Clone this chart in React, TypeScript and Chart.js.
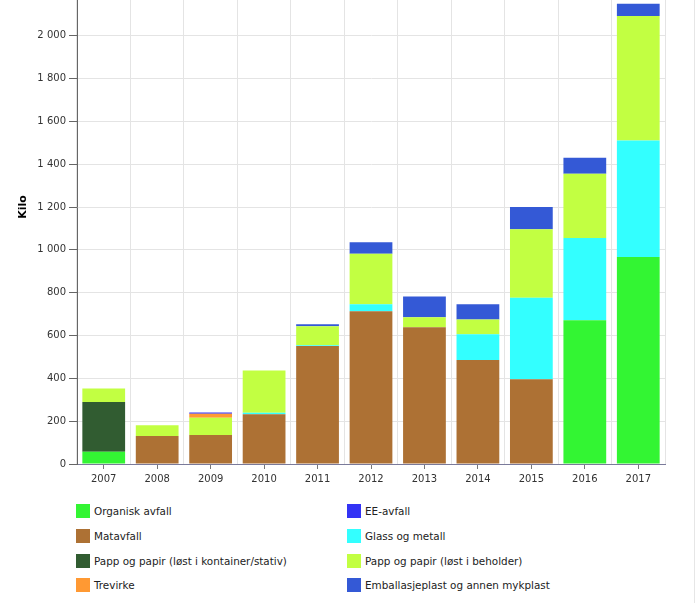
import React, { useEffect, useRef } from "react";
import { Chart, registerables } from "chart.js";
Chart.register(...registerables);

const years = ["2007", "2008", "2009", "2010", "2011", "2012", "2013", "2014", "2015", "2016", "2017"];
const organiskAvfall = [57, 0, 0, 0, 0, 0, 0, 0, 0, 671, 966];
const matavfall = [0, 131, 135, 232, 551, 713, 639, 486, 396, 0, 0];
const pappKontainer = [232, 0, 0, 0, 0, 0, 0, 0, 0, 0, 0];
const glassOgMetall = [0, 0, 0, 7, 3, 33, 0, 120, 380, 384, 545];
const pappBeholder = [64, 50, 81, 198, 89, 236, 46, 69, 320, 300, 581];
const trevirke = [0, 0, 19, 0, 0, 0, 0, 0, 0, 0, 0];
const eeAvfall = [0, 0, 5, 0, 0, 0, 0, 0, 0, 0, 0];
const emballasjeplast = [0, 0, 0, 0, 10, 53, 97, 71, 104, 75, 57];

const yMax = 2400;
const yStep = 200;

const series = [
  { label: "Organisk avfall", data: organiskAvfall, color: "#33f533" },
  { label: "Matavfall", data: matavfall, color: "#ad7134" },
  { label: "Papp og papir (løst i kontainer/stativ)", data: pappKontainer, color: "#315c31" },
  { label: "Glass og metall", data: glassOgMetall, color: "#33ffff" },
  { label: "Papp og papir (løst i beholder)", data: pappBeholder, color: "#c2ff42" },
  { label: "Trevirke", data: trevirke, color: "#ff9933" },
  { label: "EE-avfall", data: eeAvfall, color: "#3333f5" },
  { label: "Emballasjeplast og annen mykplast", data: emballasjeplast, color: "#3459d6" },
];

const legendCol1 = ["Organisk avfall", "Matavfall", "Papp og papir (løst i kontainer/stativ)", "Trevirke"];
const legendCol2 = ["EE-avfall", "Glass og metall", "Papp og papir (løst i beholder)", "Emballasjeplast og annen mykplast"];

const FONT = "'DejaVu Sans', Verdana, sans-serif";

function fmt(v: number): string {
  if (v >= 1000) {
    return Math.floor(v / 1000) + " " + String(v % 1000).padStart(3, "0");
  }
  return String(v);
}

export default function App() {
  const ref = useRef<HTMLCanvasElement | null>(null);
  useEffect(() => {
    if (!ref.current) return;
    const chart = new Chart(ref.current, {
      type: "bar",
      data: {
        labels: years,
        datasets: series.map((s) => ({
          label: s.label,
          data: s.data,
          backgroundColor: s.color,
          borderWidth: 0,
          barPercentage: 0.8,
          categoryPercentage: 1,
          xAxisID: "x",
          yAxisID: "y",
        })),
      },
      options: {
        responsive: false,
        animation: false,
        layout: { padding: { left: 0, right: 34, top: 0, bottom: 0 } },
        plugins: { legend: { display: false }, tooltip: { enabled: false } },
        scales: {
          x: {
            type: "category",
            stacked: true,
            offset: true,
            position: "bottom",
            grid: { offset: false, color: "rgba(0,0,0,0)", tickColor: "#777", tickLength: 5 },
            border: { color: "#7a7a9a", width: 1 },
            ticks: { color: "#333", font: { family: FONT, size: 10 }, padding: 4, maxRotation: 0 },
            afterFit: (s: any) => { s.height = 31; },
          },
          x2: {
            type: "category",
            position: "top",
            offset: true,
            grid: { offset: true, color: "#e4e4e4", drawTicks: false },
            border: { display: false },
            ticks: { display: false },
          },
          y: {
            stacked: true,
            min: 0,
            max: yMax,
            grid: { color: "#e4e4e4", tickColor: "#666", tickLength: 8 },
            border: { color: "#666", width: 1 },
            ticks: {
              stepSize: yStep,
              color: "#333",
              font: { family: FONT, size: 10 },
              padding: 3,
              callback: (v: any) => fmt(Number(v)),
            },
            title: {
              display: true,
              text: "Kilo",
              color: "#000",
              font: { family: FONT, size: 11, weight: "bold" },
              padding: { top: 17, bottom: 0 },
            },
            afterFit: (s: any) => { s.width = 77; },
          },
        },
      } as any,
    });
    return () => chart.destroy();
  }, []);

  const rowsY = [511, 536, 561, 585];
  const colorOf = (name: string) => series.find((s) => s.label === name)!.color;
  const renderCol = (names: string[], boxX: number, textX: number) =>
    names.map((n, i) => (
      <React.Fragment key={n}>
        <div style={{ position: "absolute", left: boxX, top: rowsY[i] - 7, width: 14, height: 14, background: colorOf(n) }} />
        <div
          style={{
            position: "absolute",
            left: textX,
            top: rowsY[i] - 8,
            height: 16,
            lineHeight: "16px",
            fontFamily: FONT,
            fontSize: "10.4px",
            color: "#222",
            whiteSpace: "nowrap",
          }}
        >
          {n}
        </div>
      </React.Fragment>
    ));

  return (
    <div style={{ position: "absolute", left: 0, top: 0, width: 699, height: 603, overflow: "hidden", background: "#fff" }}>
      <canvas ref={ref} width={699} height={554} style={{ position: "absolute", left: 0, top: -59, width: 699, height: 554 }} />
      {renderCol(legendCol1, 76, 94)}
      {renderCol(legendCol2, 347, 365)}
      <div style={{ position: "absolute", left: 694, top: 0, width: 1, height: 603, background: "#e6e6e6" }} />
    </div>
  );
}
